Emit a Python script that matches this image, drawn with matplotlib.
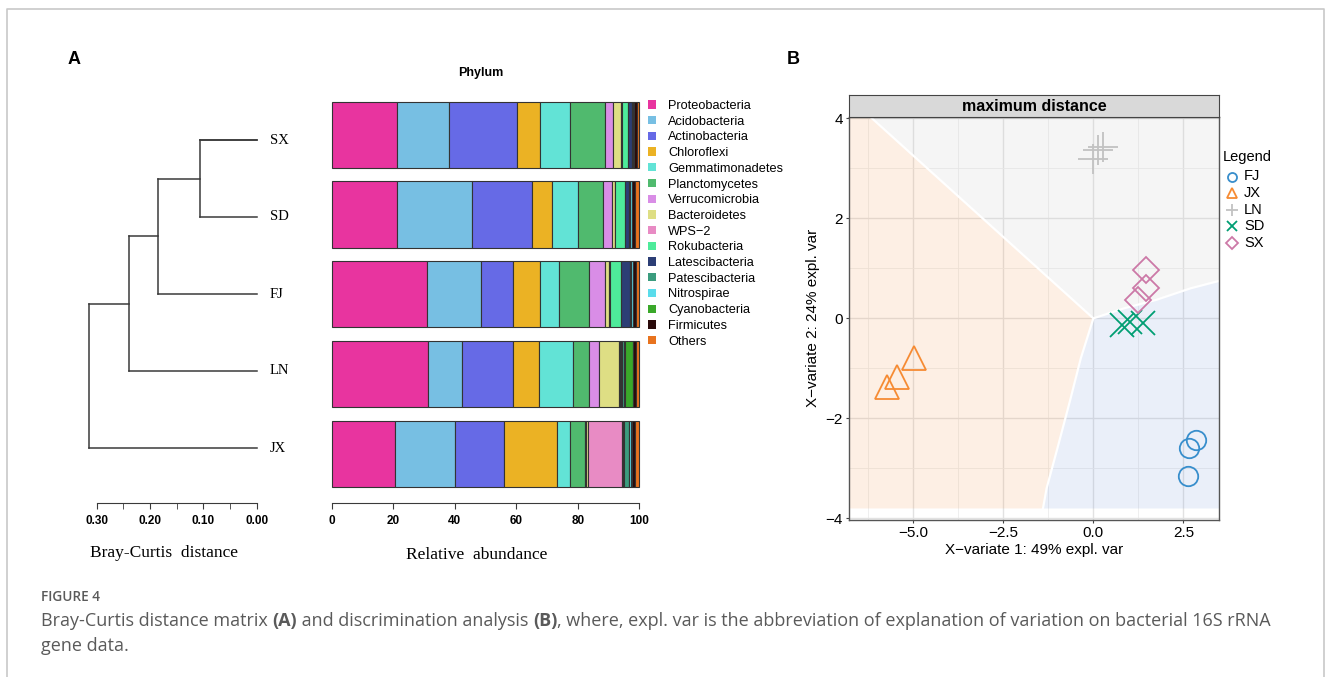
import numpy as np
import matplotlib
matplotlib.use("Agg")
import matplotlib.pyplot as plt
from matplotlib.patches import Patch
from matplotlib.lines import Line2D

W, H = 1330, 677

# ---- panel A data ----
sites = ["SX", "SD", "FJ", "LN", "JX"]
merge_heights = [0.106, 0.185, 0.239, 0.314]   # sequential merges SX+SD, +FJ, +LN, +JX

phyla = ["Proteobacteria", "Acidobacteria", "Actinobacteria", "Chloroflexi",
         "Gemmatimonadetes", "Planctomycetes", "Verrucomicrobia", "Bacteroidetes",
         "WPS\u22122", "Rokubacteria", "Latescibacteria", "Patescibacteria",
         "Nitrospirae", "Cyanobacteria", "Firmicutes", "Others"]
phylum_colors = ["#E8349F", "#77BFE3", "#666AE6", "#EBB224", "#62E3D6", "#50BA6E",
                 "#D98DE6", "#DEDE84", "#E88BC4", "#4EEB9A", "#2C3E75", "#3B9C7E",
                 "#5ADCEB", "#3AA82A", "#2A0A0A", "#E8731E"]

sx_vals = [21.3, 16.7, 22.1, 7.6, 9.8, 11.3, 2.7, 2.7, 0.2, 1.9, 1.3, 0.3, 0.3, 0.2, 0.9, 0.7]
sd_vals = [21.3, 24.3, 19.4, 6.5, 8.5, 8.1, 2.9, 1.0, 0.1, 3.4, 1.2, 0.3, 0.5, 0.1, 1.0, 1.4]
fj_vals = [30.9, 17.7, 10.2, 8.9, 6.3, 9.7, 5.2, 1.4, 0.2, 3.6, 2.9, 0.2, 0.8, 0.1, 0.8, 1.1]
ln_vals = [31.4, 11.0, 16.6, 8.4, 11.1, 5.0, 3.3, 6.7, 0.2, 0.3, 0.3, 0.7, 0.2, 2.9, 0.7, 1.2]
jx_vals = [20.7, 19.4, 15.8, 17.2, 4.3, 5.1, 0.3, 0.5, 11.2, 0.2, 0.2, 1.8, 0.7, 0.2, 1.0, 1.4]

# ---- panel B data ----
groups = ["FJ", "JX", "LN", "SD", "SX"]
group_colors = ["#388ECC", "#F68B33", "#C2C2C2", "#009E73", "#CC79A7"]
group_markers = ["o", "^", "+", "x", "D"]
fj_x, fj_y = [2.85, 2.65, 2.62], [-2.43, -2.60, -3.16]
jx_x, jx_y = [-4.98, -5.46, -5.72], [-0.80, -1.18, -1.38]
ln_x, ln_y = [0.28, 0.14, 0.00], [3.43, 3.36, 3.19]
sd_x, sd_y = [0.79, 1.02, 1.37], [-0.13, -0.07, -0.10]
sx_x, sx_y = [1.46, 1.46, 1.25], [0.96, 0.60, 0.37]

# prediction-area boundaries
orange_edge_x = [-6.2, -3.0, 0.0, -0.35, -0.65, -1.0, -1.3, -1.4]
orange_edge_y = [4.03, 1.95, 0.0, -0.8, -1.65, -2.6, -3.4, -3.8]
blue_edge_x = [0.0, 0.85, 1.75, 2.7, 3.5]
blue_edge_y = [0.0, 0.2, 0.37, 0.6, 0.75]


def box(x0, y0, x1, y1):
    return [x0 / W, 1 - y1 / H, (x1 - x0) / W, (y1 - y0) / H]


sans = ["Liberation Sans", "DejaVu Sans"]
serif = ["Liberation Serif", "DejaVu Serif"]
plt.rcParams["font.family"] = sans

fig = plt.figure(figsize=(W / 100, H / 100), dpi=100)

# frame around the figure
fig.add_artist(Line2D([7 / W, 7 / W, 1324 / W, 1324 / W], [0, 1 - 9 / H, 1 - 9 / H, 0],
                      transform=fig.transFigure, color="#c8c8c8", lw=1.2))

# ---------- dendrogram ----------
axd = fig.add_axes(box(80, 100, 290, 515))
ppu = 533.3
axd.set_xlim(0.30 + (96.7 - 80) / ppu, 0 - (290 - 256.7) / ppu)
axd.set_ylim(4 + (515 - 448) / 77, -(140 - 100) / 77)
lc = "#3a3a3a"
cur_y, cur_h = 0.0, 0.0
for i, h in enumerate(merge_heights):
    j = i + 1
    axd.plot([cur_h, h], [cur_y, cur_y], color=lc, lw=1.1)
    axd.plot([0, h], [j, j], color=lc, lw=1.1)
    axd.plot([h, h], [cur_y, j], color=lc, lw=1.1)
    cur_y, cur_h = (cur_y + j) / 2, h
axd.plot([0, merge_heights[0]], [0, 0], color=lc, lw=1.1)
for k, s in enumerate(sites):
    axd.text(-0.025, k, s, family=serif, fontsize=10.5, va="center", ha="left")
for sp in ["top", "left", "right"]:
    axd.spines[sp].set_visible(False)
axd.spines["bottom"].set_position(("data", 4 + (503 - 448) / 77))
axd.spines["bottom"].set_bounds(0.30, 0.0)
axd.spines["bottom"].set_color(lc)
axd.set_yticks([])
axd.set_xticks([0.30, 0.20, 0.10, 0.00])
axd.set_xticks([0.25, 0.15, 0.05], minor=True)
axd.set_xticklabels(["0.30", "0.20", "0.10", "0.00"], fontsize=8.5, fontweight="bold")
axd.tick_params(axis="x", which="both", length=4, color=lc, pad=5)
axd.patch.set_visible(False)
fig.text(164 / W, 1 - 553 / H, "Bray-Curtis  distance", family=serif, fontsize=12.5,
         ha="center", va="center")

# ---------- stacked bars ----------
axb = fig.add_axes(box(325, 95, 646, 515))
bpu = (639.3 - 331.7) / 100
axb.set_xlim(-(331.7 - 325) / bpu, 100 + (646 - 639.3) / bpu)
axb.set_ylim(4 + (515 - 453.7) / 79.7, -(134.8 - 95) / 79.7)
abund = np.array([sx_vals, sd_vals, fj_vals, ln_vals, jx_vals])
left = np.zeros(len(sites))
for p in range(len(phyla)):
    axb.barh(np.arange(len(sites)), abund[:, p], left=left, height=0.83,
             color=phylum_colors[p], edgecolor="#333333", linewidth=0.8)
    left += abund[:, p]
for sp in ["top", "left", "right"]:
    axb.spines[sp].set_visible(False)
axb.spines["bottom"].set_position(("data", 4 + (503 - 453.7) / 79.7))
axb.spines["bottom"].set_bounds(0, 100)
axb.spines["bottom"].set_color(lc)
axb.set_yticks([])
axb.set_xticks([0, 20, 40, 60, 80, 100])
axb.set_xticklabels(["0", "20", "40", "60", "80", "100"], fontsize=8.5, fontweight="bold")
axb.tick_params(axis="x", length=4, color=lc, pad=5)
axb.patch.set_visible(False)
fig.text(477 / W, 1 - 555 / H, "Relative  abundance", family=serif, fontsize=12.5,
         ha="center", va="center")
fig.text(481 / W, 1 - 73 / H, "Phylum", fontsize=9, fontweight="bold", ha="center", va="center")

handles = [Patch(facecolor=c, edgecolor="none") for c in phylum_colors]
fig.legend(handles, phyla, loc="upper left", bbox_to_anchor=(648 / W, 1 - 100 / H),
           frameon=False, fontsize=9.2, handlelength=0.62, handleheight=0.62,
           handletextpad=0.95, labelspacing=0.29, borderpad=0, borderaxespad=0)

# ---------- panel B ----------
axp = fig.add_axes(box(849.3, 116.7, 1219, 520))
axp.set_xlim(-6.78, 3.49)
axp.set_ylim(-4.03, 4.03)
axp.set_axisbelow(True)
axp.set_xticks([-5.0, -2.5, 0.0, 2.5])
axp.set_xticks([-6.25, -3.75, -1.25, 1.25], minor=True)
axp.set_yticks([-4, -2, 0, 2, 4])
axp.set_yticks([-3, -1, 1, 3], minor=True)
axp.set_xticklabels(["\u22125.0", "\u22122.5", "0.0", "2.5"], fontsize=11)
axp.set_yticklabels(["\u22124", "\u22122", "0", "2", "4"], fontsize=11)
axp.grid(which="major", color="#e2e2e2", lw=1.0)
axp.grid(which="minor", color="#ececec", lw=0.6)
axp.tick_params(which="major", length=2.5, color="#444444", pad=2)
axp.tick_params(which="minor", length=0)
for sp in axp.spines.values():
    sp.set_color("#555555")
    sp.set_linewidth(1.0)

xmin, xmax, ymin, ymax = -6.78, 3.49, -3.8, 4.03
ox = [xmin] + orange_edge_x + [xmin]
oy = [ymax] + orange_edge_y + [ymin]
axp.fill(ox, oy, color="#F68B33", alpha=0.13, lw=0, zorder=1)
bx = orange_edge_x[2:][::-1] + blue_edge_x + [xmax]
by = orange_edge_y[2:][::-1] + blue_edge_y + [ymin]
axp.fill(bx, by, color="#6F8FD6", alpha=0.14, lw=0, zorder=1)
gx = orange_edge_x[:3] + blue_edge_x[1:] + [xmax]
gy = orange_edge_y[:3] + blue_edge_y[1:] + [ymax]
axp.fill(gx, gy, color="#C2C2C2", alpha=0.15, lw=0, zorder=1)
axp.plot(orange_edge_x, orange_edge_y, color="white", lw=1.6, zorder=1.5)
axp.plot(blue_edge_x, blue_edge_y, color="white", lw=1.6, zorder=1.5)

pts = [(fj_x, fj_y), (jx_x, jx_y), (ln_x, ln_y), (sd_x, sd_y), (sx_x, sx_y)]
msizes = [14, 17, 22, 17, 13]
for (px, py), c, m, ms in zip(pts, group_colors, group_markers, msizes):
    axp.plot(px, py, ls="none", marker=m, ms=ms, mfc="none", mec=c, mew=1.3, zorder=3)

axp.set_xlabel("X\u2212variate 1: 49% expl. var", fontsize=11, labelpad=2)
axp.set_ylabel("X\u2212variate 2: 24% expl. var", fontsize=11, labelpad=4)

axs = fig.add_axes(box(849.3, 95, 1219, 116.7))
axs.set_facecolor("#d9d9d9")
axs.set_xticks([])
axs.set_yticks([])
for sp in axs.spines.values():
    sp.set_color("#444444")
axs.text(0.5, 0.45, "maximum distance", transform=axs.transAxes, ha="center", va="center",
         fontsize=11.5, fontweight="bold")

# legend of panel B, laid out by hand
fig.text(1223 / W, 1 - 157 / H, "Legend", fontsize=10.5, va="center", ha="left")
for k, (g, c, m) in enumerate(zip(groups, group_colors, group_markers)):
    yy = 1 - (176.5 + 16.5 * k) / H
    fig.add_artist(Line2D([1232 / W], [yy], transform=fig.transFigure, ls="none", marker=m,
                          ms=6.5 if m != "+" else 8, mfc="none", mec=c, mew=1.3))
    fig.text(1244 / W, yy, g, fontsize=10.5, va="center", ha="left")

# panel letters
fig.text(74 / W, 1 - 60 / H, "A", fontsize=13, fontweight="bold", ha="center", va="center")
fig.text(793 / W, 1 - 60 / H, "B", fontsize=13, fontweight="bold", ha="center", va="center")

# caption, written in runs so that (A) and (B) can be bold
cap = ["Open Sans", "DejaVu Sans"]
ccol = "#5a5a5a"
csize = 13.0
fig.text(41 / W, 1 - 597 / H, "FIGURE 4", family=cap, fontsize=9.8, fontweight="semibold",
         color=ccol, va="center")
runs = [("Bray-Curtis distance matrix ", "normal"), ("(A)", "bold"),
        (" and discrimination analysis ", "normal"), ("(B)", "bold"),
        (", where, expl. var is the abbreviation of explanation of variation on bacterial 16S rRNA",
         "normal")]
renderer = fig.canvas.get_renderer()
x0 = 41
for txt, wt in runs:
    t = fig.text(x0 / W, 1 - 621 / H, txt, family=cap, fontsize=csize, fontweight=wt,
                 color=ccol, va="center")
    x0 += t.get_window_extent(renderer).width
fig.text(41 / W, 1 - 646 / H, "gene data.", family=cap, fontsize=csize, color=ccol, va="center")

fig.savefig("out.png", dpi=100)
